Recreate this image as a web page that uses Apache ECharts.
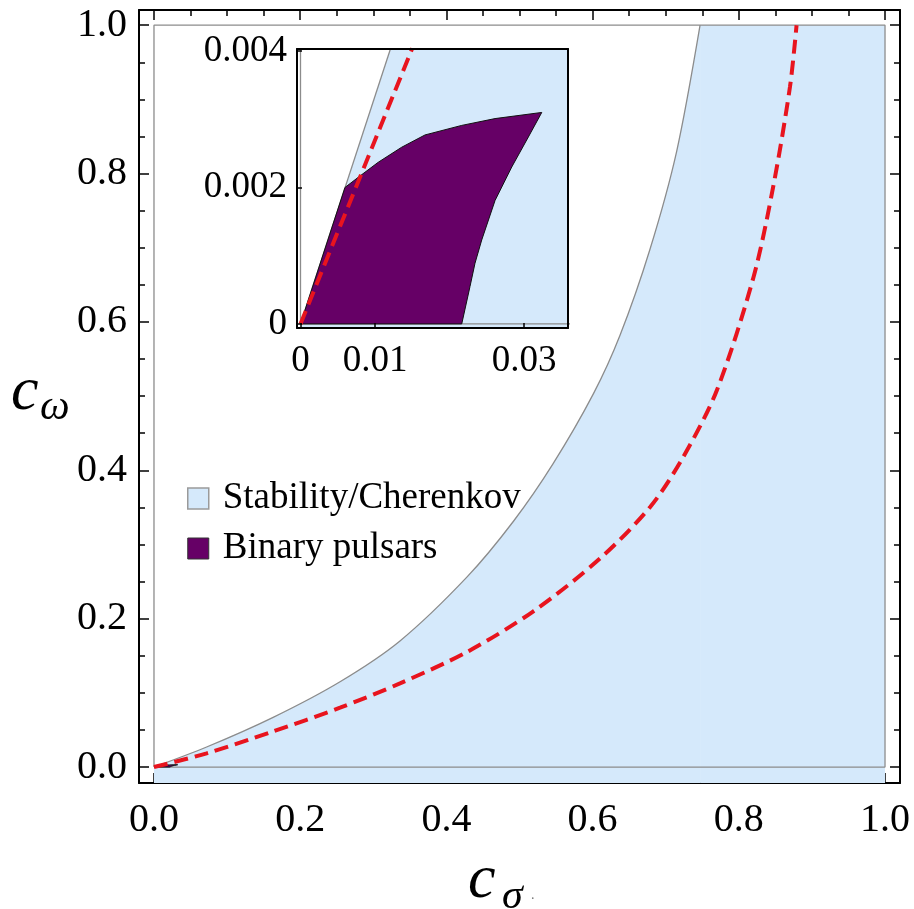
<!DOCTYPE html>
<html><head><meta charset="utf-8">
<script src="https://cdn.jsdelivr.net/npm/echarts@6/dist/echarts.min.js"></script>
<style>html,body{margin:0;padding:0;background:#fff}#c{width:914px;height:909px}</style>
</head><body><div id="c"></div>
<script>
// ---- data ----
// stability / Cherenkov boundary (gray curve)
const grayX = [0, 0.072, 0.163, 0.2545, 0.3365, 0.428, 0.4915, 0.546, 0.601, 0.6375, 0.6785, 0.715, 0.747];
const grayY = [0, 0.0270, 0.0670, 0.1150, 0.170, 0.256, 0.331, 0.409, 0.503, 0.582, 0.698, 0.830, 1.0];
// allowed region to the right of the curve's top end (top-right of the unit box)
const stabCornerX = [0.747, 1.0];
const stabCornerY = [1.0, 1.0];
// unit box of the stability region
const boxX = [0, 1, 1, 0, 0];
const boxY = [0, 0, 1, 1, 0];
// red dashed curve
const redX = [0, 0.072, 0.163, 0.2545, 0.3365, 0.428, 0.519, 0.610, 0.679, 0.724, 0.770, 0.820, 0.847, 0.870, 0.879];
const redY = [0, 0.0185, 0.048, 0.0800, 0.1128, 0.155, 0.210, 0.281, 0.351, 0.418, 0.508, 0.660, 0.782, 0.917, 1.0];
// binary pulsar allowed region (polygon)
const pulsarX = [0, 0.00597, 0.00776, 0.01044, 0.01358, 0.01671, 0.02164, 0.02611, 0.03238, 0.03058, 0.02835, 0.02611, 0.02432, 0.02342, 0.02275, 0.02164, 0];
const pulsarY = [0, 0.00200, 0.00215, 0.00237, 0.00259, 0.00277, 0.00291, 0.00301, 0.00310, 0.00274, 0.0023, 0.00181, 0.00123, 0.00089, 0.00055, 0, 0];
// inset (zoom near origin)
const insetGrayX = [0, 0.0121];
const insetGrayY = [0, 0.00404];
const insetStabX = [0, 0.0121, 0.036];
const insetStabY = [0, 0.00404, 0.00404];
const insetRedX = [0, 0.0150];
const insetRedY = [0, 0.00404];
// ticks
const majorTicks = [0, 0.2, 0.4, 0.6, 0.8, 1.0];
const majorLabels = ['0.0', '0.2', '0.4', '0.6', '0.8', '1.0'];
const minorTicks = [0.05, 0.1, 0.15, 0.25, 0.3, 0.35, 0.45, 0.5, 0.55, 0.65, 0.7, 0.75, 0.85, 0.9, 0.95];
const insetXTicks = [0, 0.01, 0.03];
const insetXLabels = ['0', '0.01', '0.03'];
const insetYTicks = [0, 0.002, 0.004];
const insetYLabels = ['0', '0.002', '0.004'];
const legendNames = ['Stability/Cherenkov', 'Binary pulsars'];

// ---- styles ----
const BLUE = '#d5e9fb', GRAY = '#8c8c8c', RED = '#e8141e', PURPLE = '#660066';
const FONT = 'Liberation Serif';
const zip = (a, b) => a.map((v, i) => [v, b[i]]);
const lab = (ticks, labels) => v => { const i = ticks.findIndex(t => Math.abs(t - v) < 1e-9); return i < 0 ? '' : labels[i]; };

const chart = echarts.init(document.getElementById('c'), null, {renderer: 'canvas'});

const MX = [-0.0205, 1.0205], MY = [-0.0215, 1.0205];
const IX = [-0.00047, 0.0359], IY = [-0.00006, 0.00403];

function mainAxis(pos, isX, major, withLabel, withLine) {
  const ax = {
    type: 'value', gridIndex: 0, position: pos,
    min: isX ? MX[0] : MY[0], max: isX ? MX[1] : MY[1],
    splitLine: {show: false},
    axisLine: {show: withLine, onZero: false, lineStyle: {color: '#000', width: 2}},
    axisTick: {show: true, inside: true, length: major ? 10 : 6, lineStyle: {color: '#000', width: 1.5},
               customValues: major ? majorTicks : minorTicks},
    axisLabel: {show: withLabel}
  };
  if (withLabel) {
    ax.axisLabel = {show: true, customValues: majorTicks, formatter: lab(majorTicks, majorLabels),
      fontFamily: FONT, fontSize: 40, color: '#000', margin: isX ? 17 : 12};
  }
  return ax;
}

const xAxes = [
  mainAxis('bottom', true, true, true, true),
  mainAxis('bottom', true, false, false, false),
  mainAxis('top', true, true, false, true),
  mainAxis('top', true, false, false, false),
  {type: 'value', gridIndex: 1, position: 'bottom', min: IX[0], max: IX[1], z: 15,
   splitLine: {show: false}, axisLine: {show: true, onZero: false, lineStyle: {color: '#000', width: 2}},
   axisTick: {inside: true, length: 5, customValues: insetXTicks, lineStyle: {color: '#000', width: 1.5}},
   axisLabel: {customValues: insetXTicks, formatter: lab(insetXTicks, insetXLabels), fontFamily: FONT, fontSize: 37, color: '#000', margin: 15}},
  {type: 'value', gridIndex: 1, position: 'top', min: IX[0], max: IX[1], z: 15,
   splitLine: {show: false}, axisLine: {show: true, onZero: false, lineStyle: {color: '#000', width: 2}},
   axisTick: {show: false}, axisLabel: {show: false}}
];
const yAxes = [
  mainAxis('left', false, true, true, true),
  mainAxis('left', false, false, false, false),
  mainAxis('right', false, true, false, true),
  mainAxis('right', false, false, false, false),
  {type: 'value', gridIndex: 1, position: 'left', min: IY[0], max: IY[1], z: 15,
   splitLine: {show: false}, axisLine: {show: true, onZero: false, lineStyle: {color: '#000', width: 2}},
   axisTick: {inside: true, length: 5, customValues: insetYTicks, lineStyle: {color: '#000', width: 1.5}},
   axisLabel: {customValues: insetYTicks, formatter: lab(insetYTicks, insetYLabels), fontFamily: FONT, fontSize: 37, color: '#000', margin: 10}},
  {type: 'value', gridIndex: 1, position: 'right', min: IY[0], max: IY[1], z: 15,
   splitLine: {show: false}, axisLine: {show: true, onZero: false, lineStyle: {color: '#000', width: 2}},
   axisTick: {show: false}, axisLabel: {show: false}}
];

function polygonSeries(name, xi, yi, z) {
  return {
    name, type: 'custom', xAxisIndex: xi, yAxisIndex: yi, z,
    clip: true, silent: true,
    data: zip(pulsarX, pulsarY),
    encode: {x: 0, y: 1},
    renderItem: (params, api) => {
      if (params.dataIndex !== 0) return null;
      const pts = pulsarX.map((x, i) => api.coord([x, pulsarY[i]]));
      return {type: 'polygon', shape: {points: pts},
              style: {fill: PURPLE, stroke: '#111', lineWidth: 1}};
    }
  };
}

const series = [
  {name: 'stab-corner', type: 'line', xAxisIndex: 0, yAxisIndex: 0, z: 1,
   data: zip(stabCornerX, stabCornerY), symbol: 'none', silent: true,
   lineStyle: {width: 0, opacity: 0},
   areaStyle: {color: BLUE, opacity: 1, origin: 'start'}},
  {name: legendNames[0], type: 'line', xAxisIndex: 0, yAxisIndex: 0, z: 1,
   data: zip(grayX, grayY), symbol: 'none', silent: true, smooth: 0.3,
   lineStyle: {color: GRAY, width: 1.3},
   areaStyle: {color: BLUE, opacity: 1, origin: 'start'}},
  {name: 'box', type: 'line', xAxisIndex: 0, yAxisIndex: 0, z: 2,
   data: zip(boxX, boxY), symbol: 'none', silent: true, lineStyle: {color: GRAY, width: 1.3}},
  polygonSeries(legendNames[1], 0, 0, 3),
  {name: 'red', type: 'line', xAxisIndex: 0, yAxisIndex: 0, z: 4,
   data: zip(redX, redY), symbol: 'none', silent: true, smooth: 0.3,
   lineStyle: {color: RED, width: 4, type: [14, 7]}},
  // inset
  {name: 'inset-stab', type: 'line', xAxisIndex: 4, yAxisIndex: 4, z: 11,
   data: zip(insetStabX, insetStabY), symbol: 'none', silent: true, lineStyle: {width: 0, opacity: 0},
   areaStyle: {color: BLUE, opacity: 1, origin: 'start'}},
  {name: 'inset-gray', type: 'line', xAxisIndex: 4, yAxisIndex: 4, z: 12,
   data: zip(insetGrayX, insetGrayY), symbol: 'none', silent: true, lineStyle: {color: GRAY, width: 1.3}},
  {name: 'inset-box', type: 'line', xAxisIndex: 4, yAxisIndex: 4, z: 12,
   data: zip(boxX, boxY), symbol: 'none', silent: true, lineStyle: {color: GRAY, width: 1.3}},
  polygonSeries('inset-pulsar', 4, 4, 13),
  {name: 'inset-red', type: 'line', xAxisIndex: 4, yAxisIndex: 4, z: 14,
   data: zip(insetRedX, insetRedY), symbol: 'none', silent: true,
   lineStyle: {color: RED, width: 4, type: [14, 7]}}
];

chart.setOption({
  animation: false,
  backgroundColor: '#fff',
  grid: [
    {left: 139, top: 10, width: 761, height: 773, containLabel: false, show: false},
    {left: 297, top: 49, width: 271, height: 279, containLabel: false, show: true,
     backgroundColor: '#fff', borderWidth: 0, z: 10}
  ],
  xAxis: xAxes,
  yAxis: yAxes,
  legend: {
    left: 187, top: 480, orient: 'vertical', selectedMode: false, padding: 0,
    itemWidth: 21, itemHeight: 21, itemGap: 13,
    textStyle: {fontFamily: FONT, fontSize: 37, color: '#000', lineHeight: 37, padding: [0, 0, 0, 9]},
    data: [
      {name: legendNames[0], icon: 'rect', itemStyle: {color: BLUE, borderColor: '#9a9a9a', borderWidth: 1.5}},
      {name: legendNames[1], icon: 'rect', itemStyle: {color: PURPLE, borderColor: '#333', borderWidth: 1}}
    ]
  },
  graphic: [
    {type: 'text', x: 11, y: 393, style: {text: 'c', font: 'italic 62px "Liberation Serif"', fill: '#000', textAlign: 'left', textVerticalAlign: 'middle'}},
    {type: 'text', x: 40, y: 408, style: {text: 'ω', font: 'italic 42px "Liberation Serif"', fill: '#000', textAlign: 'left', textVerticalAlign: 'middle'}},
    {type: 'text', x: 468, y: 881, style: {text: 'c', font: 'italic 62px "Liberation Serif"', fill: '#000', textAlign: 'left', textVerticalAlign: 'middle'}},
    {type: 'text', x: 502, y: 897, style: {text: 'σ', font: 'italic 42px "Liberation Serif"', fill: '#000', textAlign: 'left', textVerticalAlign: 'middle'}},
    {type: 'text', x: 531, y: 895, style: {text: '.', font: '14px "Liberation Serif"', fill: '#777', textAlign: 'left', textVerticalAlign: 'middle'}}
  ],
  series
});
</script></body></html>
